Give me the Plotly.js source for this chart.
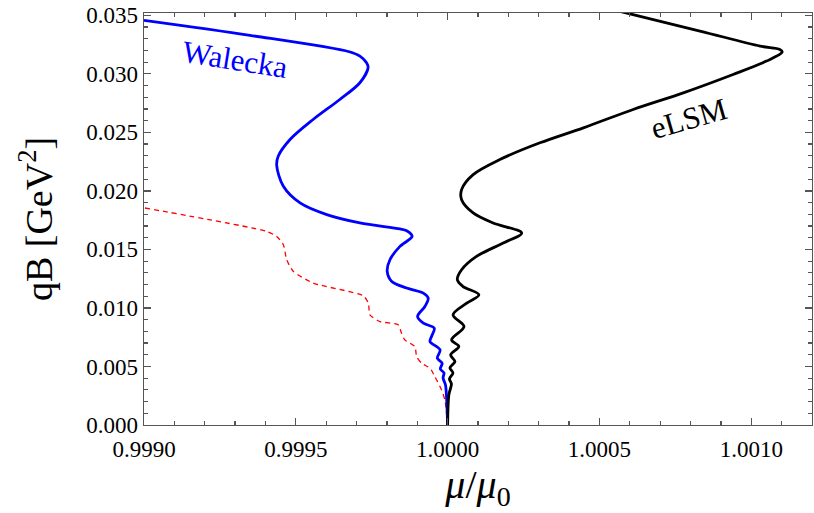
<!DOCTYPE html>
<html><head><meta charset="utf-8">
<script src="https://cdn.plot.ly/plotly-3.0.1.min.js"></script>
<style>html,body{margin:0;padding:0;background:#fff}</style>
</head><body>
<div id="chart" style="width:814px;height:513px"></div>
<script>
// Walecka (blue) curve: mu/mu0 and qB [GeV^2]
const waleckaX = [0.99900,0.999349,0.999676,0.999711,0.999733,0.999738,0.999711,0.999645,0.999557,0.999481,0.999442,0.999437,0.999459,0.999514,0.999602,0.999711,0.999843,0.999865,0.999883,0.999843,0.999810,0.999801,0.999816,0.999865,0.999920,0.999936,0.999925,0.999901,0.999920,0.999956,0.999947,0.999942,0.999975,0.999966,0.999982,0.999976,0.999988,0.999985,0.999993,0.999996,1.000000];
const waleckaY = [0.03457,0.03329,0.03189,0.03152,0.03095,0.03052,0.02924,0.02781,0.02610,0.02439,0.02296,0.02219,0.02039,0.01897,0.01797,0.01726,0.01675,0.01660,0.01611,0.01526,0.01412,0.01312,0.01226,0.01170,0.01127,0.01084,0.01012,0.00927,0.00870,0.00827,0.00756,0.00713,0.00642,0.00571,0.00528,0.00479,0.00445,0.00402,0.00342,0.00257,0.0];
// eLSM (black) curve
const elsmX = [1.000399,1.000562,1.000831,1.001029,1.001094,1.001102,1.001050,1.000940,1.000776,1.000611,1.000447,1.000304,1.000172,1.000084,1.000046,1.000046,1.000084,1.000150,1.000244,1.000183,1.000095,1.000046,1.000032,1.000051,1.000103,1.000063,1.000018,1.000054,1.000013,1.000037,1.000010,1.000024,1.0000076,1.0000175,1.000006,1.0000125,1.000004,1.000000];
const elsmY = [0.03637,0.03537,0.03366,0.03237,0.03209,0.03186,0.03109,0.02995,0.02838,0.02696,0.02539,0.02411,0.02268,0.02139,0.02011,0.01925,0.01812,0.01726,0.01640,0.01555,0.01440,0.01326,0.01241,0.01183,0.01112,0.01041,0.00941,0.00841,0.00727,0.00670,0.00599,0.00542,0.00488,0.00445,0.00394,0.00351,0.00257,0.0];
// red dashed curve
const redX = [0.999003,0.999404,0.999437,0.999459,0.999470,0.999492,0.999557,0.999722,0.999739,0.999744,0.999777,0.999837,0.999848,0.999859,0.999892,0.999898,0.999914,0.999942,0.999958,0.999980,0.999991,1.000000];
const redY = [0.01854,0.01654,0.01611,0.01540,0.01412,0.01312,0.01213,0.01104,0.01041,0.00941,0.00884,0.00856,0.00785,0.00727,0.00670,0.00584,0.00528,0.00485,0.00413,0.00300,0.00214,0.0];
const xRange = [0.9990, 1.0012];
const yRange = [0.0, 0.0352];
const labels = [{text:'Walecka', x:0.999300, y:0.03125, color:'#0000ff', angle:9},
                {text:'eLSM', x:1.000795, y:0.02620, color:'#000000', angle:-16}];

const F = 'Liberation Serif, Times New Roman, serif';
const traces = [
  {x:redX, y:redY, mode:'lines', line:{color:'#ff0000', width:1.3, dash:'5px,4px', shape:'spline', smoothing:0.6}, showlegend:false, hoverinfo:'skip'},
  {x:waleckaX, y:waleckaY, mode:'lines', line:{color:'#0000ff', width:2.8, shape:'spline', smoothing:0.9}, showlegend:false},
  {x:elsmX, y:elsmY, mode:'lines', line:{color:'#000000', width:2.8, shape:'spline', smoothing:0.9}, showlegend:false}
];
const axisCommon = {showgrid:false, zeroline:false, showline:true, linecolor:'#555', linewidth:1.3, mirror:'ticks',
  ticks:'inside', ticklen:7, tickcolor:'#555', tickwidth:1.2, tickfont:{family:F, size:23, color:'#000'}};
const layout = {
  width:814, height:513,
  margin:{l:144, r:2, t:13, b:88},
  paper_bgcolor:'#fff', plot_bgcolor:'#fff',
  font:{family:F, color:'#000'},
  xaxis:Object.assign({}, axisCommon, {range:xRange, dtick:0.0005, tick0:0.999, tickformat:'.4f', ticklabelstandoff:3,
    minor:{dtick:0.0001, ticks:'inside', ticklen:4, tickcolor:'#555'},
    title:{text:'<i>μ</i>/<i>μ</i><sub>0</sub>', font:{family:F, size:40}, standoff:6}}),
  yaxis:Object.assign({}, axisCommon, {range:yRange, dtick:0.005, tick0:0, tickformat:'.3f',
    minor:{dtick:0.001, ticks:'inside', ticklen:4, tickcolor:'#555'},
    title:{text:'qB [GeV<sup>2</sup>]', font:{family:F, size:38}, standoff:22}}),
  annotations: labels.map(l => ({x:l.x, y:l.y, text:l.text, showarrow:false, textangle:l.angle,
    font:{family:F, size:31, color:l.color}}))
};
Plotly.newPlot('chart', traces, layout, {staticPlot:true});
</script>
</body></html>
